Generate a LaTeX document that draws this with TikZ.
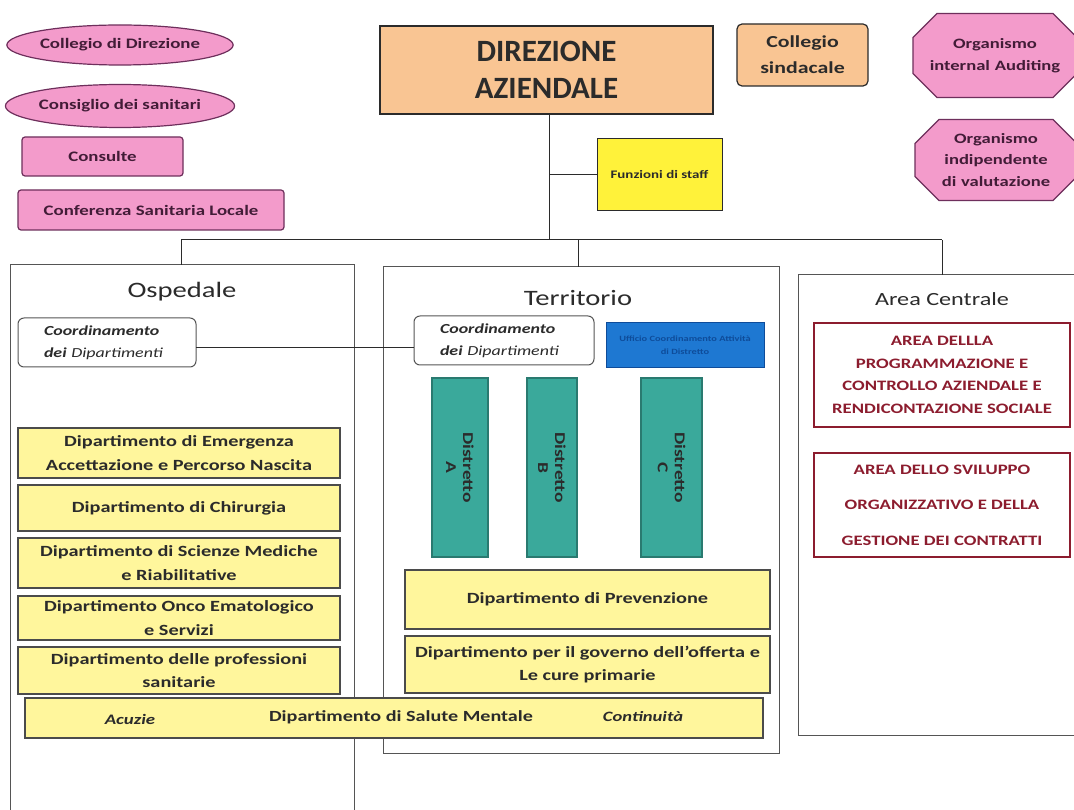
\documentclass[tikz,border=0pt]{standalone}
\usepackage{fontspec}
\setmainfont{Carlito}[FakeStretch=1.3]
\newfontfamily\plainfont{Carlito}
\usetikzlibrary{shapes.geometric,shapes.misc}
\definecolor{peach}{HTML}{F9C593}
\definecolor{pinkf}{HTML}{F39BCB}
\definecolor{pinkd}{HTML}{6E2F5C}
\definecolor{yelf}{HTML}{FFF69C}
\definecolor{yels}{HTML}{FFF23A}
\definecolor{tealf}{HTML}{3AA99B}
\definecolor{teald}{HTML}{2A7A70}
\definecolor{bluef}{HTML}{1E78D2}
\definecolor{blued}{HTML}{0E4C9A}
\definecolor{dred}{HTML}{8C1C2E}
\definecolor{txt}{HTML}{2B2B2B}
\tikzset{
  every node/.style={inner sep=0pt, outer sep=0pt, text=txt, align=center},
  pinkell/.style={ellipse, draw=pinkd, line width=1.2pt, fill=pinkf, text=pinkd!60!black, font=\fontsize{14.5}{17}\selectfont\bfseries},
  pinkbox/.style={rectangle, rounded corners=3pt, draw=pinkd, line width=1.2pt, fill=pinkf, text=pinkd!60!black, font=\fontsize{14.5}{17}\selectfont\bfseries},
  pinkoct/.style={chamfered rectangle, chamfered rectangle corners={north west,south west,north east,south east}, chamfered rectangle xsep=10pt, chamfered rectangle ysep=14pt, draw=pinkd, line width=1.2pt, fill=pinkf, text=pinkd!60!black, font=\fontsize{14.3}{21.5}\selectfont\bfseries},
  peachbox/.style={rectangle, draw=txt, line width=1.2pt, fill=peach},
  area/.style={rectangle, draw=txt!80, line width=1pt, fill=white},
  coordbox/.style={rectangle, rounded corners=6pt, draw=txt!80, line width=1pt, fill=white, align=left, font=\fontsize{13.8}{22}\selectfont\bfseries\itshape},
  dept/.style={rectangle, draw=txt!85, line width=1.3pt, fill=yelf, font=\fontsize{15.6}{23.5}\selectfont\bfseries},
  distr/.style={rectangle, draw=teald, line width=1.5pt, fill=tealf},
  distrtext/.style={rotate=-90, font=\fontsize{15}{17}\selectfont\bfseries},
  redbox/.style={rectangle, draw=dred, line width=2pt, fill=white, text=dred, font=\fontsize{14.4}{22.7}\selectfont\bfseries},
  title/.style={font=\fontsize{22}{24}\selectfont},
  conn/.style={draw=txt, line width=1pt}
}
\begin{document}
\begin{tikzpicture}[x=1pt,y=-1pt]
\useasboundingbox[fill=white] (0,0) rectangle (1074,810);

% top-left pink items
\node[pinkell, minimum width=224pt, minimum height=40pt] (cdir) at (120,45) {Collegio di Direzione};
\node[pinkell, minimum width=224pt, minimum height=43pt] (csan) at (120,106) {Consiglio dei sanitari};
\node[pinkbox, minimum width=161pt, minimum height=39pt] (cons) at (102.5,156.5) {Consulte};
\node[pinkbox, minimum width=266pt, minimum height=40pt] (conf) at (151,210) {Conferenza Sanitaria Locale};

% direction
\node[peachbox, minimum width=333pt, minimum height=88pt, font=\plainfont\fontsize{31}{37}\selectfont\bfseries] (dir) at (546.5,70) {DIREZIONE\\AZIENDALE};
\node[peachbox, rounded corners=5pt, minimum width=131pt, minimum height=62pt, font=\fontsize{16.8}{26}\selectfont\bfseries] (csind) at (802.5,55) {Collegio\\sindacale};
\node[pinkoct, inner ysep=11pt, minimum width=144pt, text width=144pt] (oia) at (995,55.5) {Organismo\\internal Auditing};
\node[pinkoct, minimum width=142pt, text width=142pt] (oiv) at (996,160) {Organismo\\indipendente\\di valutazione};
\node[rectangle, draw=txt, line width=1pt, fill=yels, minimum width=125pt, minimum height=72pt, font=\fontsize{11.5}{13}\selectfont\bfseries] (staff) at (659.5,175) {Funzioni di staff};

% areas
\node[area, minimum width=344pt, minimum height=560pt, anchor=north west] (osp) at (10,265) {};
\node[area, minimum width=396pt, minimum height=486pt, anchor=north west] (ter) at (383,267) {};
\node[area, minimum width=290pt, minimum height=460pt, anchor=north west] (acn) at (798,275) {};
\node[title] (tosp) at (182,292) {Ospedale};
\node[title] (tter) at (578,298) {Territorio};
\node[title, font=\fontsize{18.6}{22}\selectfont] (tacn) at (942,299) {Area Centrale};

% connectors
\coordinate (j2) at (549,240);
\coordinate (hl) at (181,240);
\coordinate (hr) at (942,240);
\coordinate (j1) at (j2 |- staff.west);
\draw[conn] (dir.south -| j2) -- (j2);
\draw[conn] (j1) -- (staff.west);
\draw[conn] (hl) -- (hr);
\draw[conn] (hl) -- (hl |- osp.north);
\draw[conn] (578,240) -- (578,267);
\draw[conn] (hr) -- (hr |- acn.north);

% coordinamento
\node[coordbox, minimum width=178pt, minimum height=49pt, text width=126pt] (cosp) at (107,342.5) {Coordinamento\\dei {\mdseries Dipartimenti}};
\node[coordbox, minimum width=180pt, minimum height=49pt, text width=128pt] (cter) at (504,340.5) {Coordinamento\\dei {\mdseries Dipartimenti}};
\draw[conn] (cosp.east |- 0,348) -- (cter.west |- 0,348);
\node[rectangle, draw=blued, line width=1pt, fill=bluef, minimum width=158pt, minimum height=45pt, text=blued, font=\fontsize{8}{13}\selectfont\bfseries] (ucd) at (685,345.5) {Ufficio Coordinamento Attività\\di Distretto};

% distretti
\node[distr, minimum width=56pt, minimum height=179pt] (dA) at (460,467.5) {};
\node[distr, minimum width=50pt, minimum height=179pt] (dB) at (552,467.5) {};
\node[distr, minimum width=61pt, minimum height=179pt] (dC) at (671.5,467.5) {};
\node[distrtext] (lA) at (dA) {Distretto\\A};
\node[distrtext] (lB) at (dB) {Distretto\\B};
\node[distrtext] (lC) at (dC) {Distretto\\C};

% ospedale departments
\node[dept, minimum width=322pt, minimum height=50pt] (d1) at (179,453) {Dipartimento di Emergenza\\Accettazione e Percorso Nascita};
\node[dept, minimum width=322pt, minimum height=46pt] (d2) at (179,508) {Dipartimento di Chirurgia};
\node[dept, minimum width=322pt, minimum height=50pt] (d3) at (179,563) {Dipartimento di Scienze Mediche\\e Riabilitative};
\node[dept, minimum width=322pt, minimum height=44pt] (d4) at (179,618) {Dipartimento Onco Ematologico\\e Servizi};
\node[dept, minimum width=322pt, minimum height=47pt] (d5) at (179,670.5) {Dipartimento delle professioni\\sanitarie};

% territorio departments
\node[dept, minimum width=365pt, minimum height=59pt] (t1) at (587.5,599.5) {Dipartimento di Prevenzione};
\node[dept, minimum width=365pt, minimum height=57pt] (t2) at (587.5,664.5) {Dipartimento per il governo dell'offerta e\\Le cure primarie};

% salute mentale
\node[dept, minimum width=738pt, minimum height=40pt] (dsm) at (394,718) {};
\node[font=\fontsize{15.5}{18}\selectfont\bfseries] (smt) at (401,717) {Dipartimento di Salute Mentale};
\node[font=\fontsize{14.5}{16}\selectfont\bfseries\itshape] (acu) at (130,719) {Acuzie};
\node[font=\fontsize{14.3}{16}\selectfont\bfseries\itshape] (cnt) at (643,717) {Continuità};

% area centrale boxes
\node[redbox, minimum width=256pt, minimum height=104pt] (ac1) at (942,375) {AREA DELLLA\\PROGRAMMAZIONE E\\CONTROLLO AZIENDALE E\\RENDICONTAZIONE SOCIALE};
\node[redbox, minimum width=256pt, minimum height=104pt, font=\fontsize{14.4}{35.5}\selectfont\bfseries] (ac2) at (942,505) {AREA DELLO SVILUPPO\\ORGANIZZATIVO E DELLA\\GESTIONE DEI CONTRATTI};
\end{tikzpicture}
\end{document}
